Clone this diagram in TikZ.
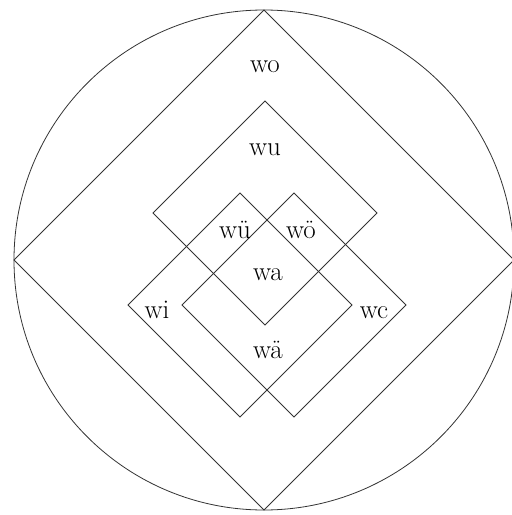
\documentclass[tikz,border=0pt]{standalone}
\begin{document}
\begin{tikzpicture}[x=1pt,y=1pt,
    hinh/.style={black!80,line width=0.8pt},
    nhan/.style={anchor=base,inner sep=0pt,font=\fontsize{27}{30}\selectfont}]
    % Khung hình
    \useasboundingbox (-264,-255) rectangle (248,260);
    % Vẽ đường tròn và hình vuông lớn
    \draw[hinh] (0,0) circle (250);
    \draw[hinh] (0,250) -- (-250,0) -- (0,-250) -- (250,0) -- cycle;
    % Vẽ ba hình vuông nhỏ
    \foreach \cx/\cy in {1/47,-24/-45,30/-45}
    \draw[hinh,shift={(\cx,\cy)}] (0,112) -- (-112,0) -- (0,-112) -- (112,0) -- cycle;
    % Đặt tên các miền
    \node[nhan] (wo) at (1,188) {wo};
    \node[nhan] (wu) at (1,105) {wu};
    \node[nhan] (wue) at (-29,22) {wü};
    \node[nhan] (woe) at (37,22) {wö};
    \node[nhan] (wa) at (4,-20) {wa};
    \node[nhan] (wi) at (-107,-58) {wi};
    \node[nhan] (wc) at (110,-58) {wc};
    \node[nhan] (wae) at (4,-98) {wä};
\end{tikzpicture}
\end{document}
